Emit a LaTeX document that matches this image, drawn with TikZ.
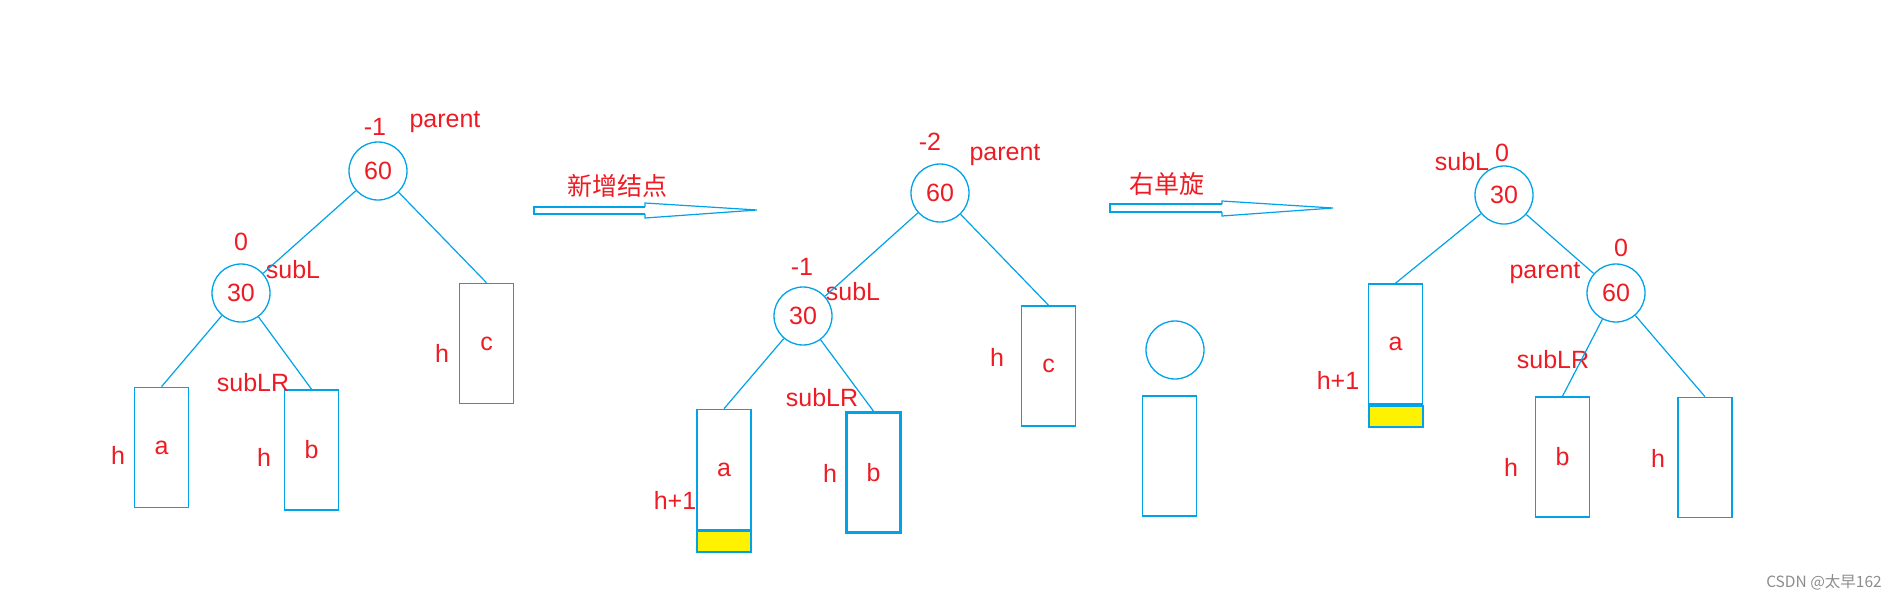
\documentclass[tikz,border=0pt]{standalone}
\usepackage{fontspec}
\setmainfont{Liberation Sans}
\newfontfamily\cjkfont{Noto Sans CJK SC}
\usepackage{xcolor}
\usepackage{tikz}
\usetikzlibrary{positioning}

\definecolor{lineblue}{RGB}{0,162,232}
\definecolor{txtred}{RGB}{237,28,36}
\definecolor{markyellow}{RGB}{255,242,0}

\begin{document}
\begin{tikzpicture}[x=1pt, y=-1pt,
    keynode/.style={circle, draw=lineblue, line width=1.3pt, minimum size=58pt, inner sep=0pt, text=txtred, font=\fontsize{25}{30}\selectfont},
    tblock/.style={rectangle, draw=lineblue, line width=1.6pt, minimum width=54pt, minimum height=120pt, inner sep=0pt, text=txtred, font=\fontsize{25}{30}\selectfont},
    growbar/.style={rectangle, draw=lineblue, line width=2pt, fill=markyellow, minimum width=54pt, minimum height=21pt, inner sep=0pt},
    lbl/.style={text=txtred, font=\fontsize{25}{30}\selectfont, inner sep=0pt},
    cjklbl/.style={text=txtred, font=\cjkfont\fontsize{25}{30}\selectfont, inner sep=0pt},
    tline/.style={draw=lineblue, line width=1.2pt},
    shaft/.style={draw=lineblue, line width=2.2pt},
    head/.style={draw=lineblue, line width=1.2pt, line join=miter}
  ]
    \useasboundingbox (0,0) rectangle (1896,598);

    % Left tree: before insertion
    \node[keynode] (p1) at (378,171) {60};
    \node[keynode] (s1) at (241,293) {30};
    \node[tblock] (a1) at (161.5,447.5) {a};
    \node[tblock] (b1) at (311.5,450) {b};
    \node[tblock] (c1) at (486.5,343.5) {c};
    \node[lbl] (bf1) at (375,127) {-1};
    \node[lbl] (pn1) at (445,122) {parent};
    \node[lbl] (bs1) at (241,242) {0};
    \node[lbl] (sn1) at (293,270) {subL};
    \node[lbl] (lr1) at (253,383) {subLR};
    \node[lbl] (ha1) at (118,455) {h};
    \node[lbl] (hb1) at (264,457) {h};
    \node[lbl] (hc1) at (442,353) {h};
    \draw[tline] (p1) -- (s1);
    \draw[tline] (p1) -- (c1.north);
    \draw[tline] (s1) -- (a1.north);
    \draw[tline] (s1) -- (b1.north);

    % Arrow: insertion
    \node[cjklbl] (ins) at (617,186) {新增结点};
    \draw[shaft] (645,207) -- (534,207) -- (534,214) -- (645,214);
    \draw[head] (645,207) -- (645,203) -- (757,210) -- (645,218) -- (645,214);

    % Middle tree: after insertion
    \node[keynode] (p2) at (940,193) {60};
    \node[keynode] (s2) at (803,316) {30};
    \node[tblock] (a2) at (724,469.5) {a};
    \node[growbar, below=0pt of a2] (g2) {};
    \node[tblock, line width=2.6pt] (b2) at (873.5,472.5) {b};
    \node[tblock] (c2) at (1048.5,366) {c};
    \node[lbl] (bf2) at (930,142) {-2};
    \node[lbl] (pn2) at (1005,155) {parent};
    \node[lbl] (bs2) at (802,267) {-1};
    \node[lbl] (sn2) at (853,292) {subL};
    \node[lbl] (lr2) at (822,398) {subLR};
    \node[lbl] (ha2) at (675,500) {h+1};
    \node[lbl] (hb2) at (830,473) {h};
    \node[lbl] (hc2) at (997,357) {h};
    \draw[tline] (p2) -- (s2);
    \draw[tline] (p2) -- (c2.north);
    \draw[tline] (s2) -- (a2.north);
    \draw[tline] (s2) -- (b2.north);

    % Arrow: right rotation
    \node[cjklbl] (rot) at (1167,184) {右单旋};
    \draw[shaft] (1222,204) -- (1110,204) -- (1110,212) -- (1222,212);
    \draw[head] (1222,204) -- (1222,201) -- (1333,208) -- (1222,216) -- (1222,212);

    % Loose node and block
    \node[keynode] (fn) at (1175,350) {};
    \node[tblock] (fb) at (1169.5,456) {};

    % Right tree: after rotation
    \node[keynode] (s3) at (1504,195) {30};
    \node[keynode] (p3) at (1616,293) {60};
    \node[tblock] (a3) at (1395.5,344) {a};
    \node[growbar, below=0pt of a3] (g3) {};
    \node[tblock] (b3) at (1562.5,457) {b};
    \node[tblock] (c3) at (1705,457.5) {};
    \node[lbl] (sn3) at (1462,162) {subL};
    \node[lbl] (bs3) at (1502,153) {0};
    \node[lbl] (pn3) at (1545,273) {parent};
    \node[lbl] (bf3) at (1621,248) {0};
    \node[lbl] (lr3) at (1553,360) {subLR};
    \node[lbl] (ha3) at (1338,380) {h+1};
    \node[lbl] (hb3) at (1511,467) {h};
    \node[lbl] (hc3) at (1658,458) {h};
    \draw[tline] (s3) -- (a3.north);
    \draw[tline] (s3) -- (p3);
    \draw[tline] (p3) -- (b3.north);
    \draw[tline] (p3) -- (c3.north);

    % Watermark
    \node[text=black!45, font=\cjkfont\fontsize{15.5}{17}\selectfont, inner sep=0pt] (wm) at (1824,582) {CSDN @太早162};
\end{tikzpicture}
\end{document}
